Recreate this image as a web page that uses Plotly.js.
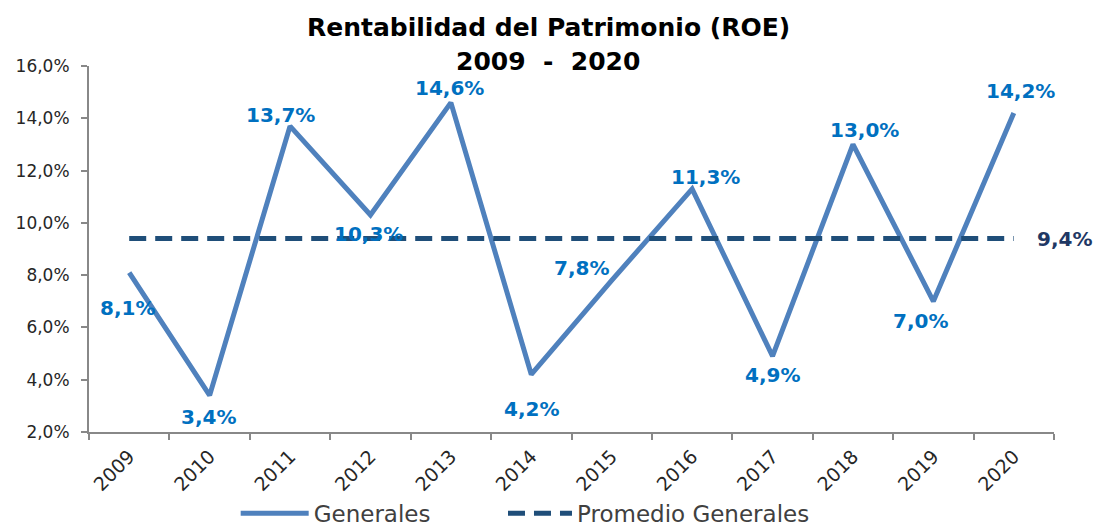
<!DOCTYPE html>
<html><head><meta charset="utf-8">
<script src="https://cdn.plot.ly/plotly-3.0.1.min.js"></script>
<style>body{margin:0;background:#fff}#c{width:1097px;height:531px}</style>
</head><body><div id="c"></div>
<script>
const years = ["2009","2010","2011","2012","2013","2014","2015","2016","2017","2018","2019","2020"];
const generales = [8.1,3.4,13.7,10.3,14.6,4.2,7.8,11.3,4.9,13.0,7.0,14.2];
const promedio = 9.4;
const yTicks = [2,4,6,8,10,12,14,16];
// label placement offsets (pixels) per point
const labelDx = [-2,-1,-10,-2,-1,0,-30,13,0,12,-13,7];
const labelDy = [-35,-22,11,-19,15,-35,12,12,-19,14,-20,22];

const fmt = v => v.toFixed(1).replace('.', ',') + '%';
const promedioArr = years.map(() => promedio);
const FONT = '"DejaVu Sans", sans-serif';

const traces = [
  {x: years, y: generales, type: 'scatter', mode: 'lines', name: 'Generales', legend: 'legend',
   line: {color: '#4F81BD', width: 5}},
  {x: years, y: promedioArr, type: 'scatter', mode: 'lines', name: 'Promedio Generales', legend: 'legend2',
   line: {color: '#1F4E79', width: 5, dash: '17px,9px'}}
];

const annotations = generales.map((v, i) => ({
  x: i, y: v, xref: 'x', yref: 'y', text: '<b>' + fmt(v) + '</b>', showarrow: false,
  xshift: labelDx[i], yshift: labelDy[i],
  font: {family: FONT, size: 20, color: '#0070C0'}
}));
annotations.push({
  x: years.length - 1, y: promedio, xref: 'x', yref: 'y', text: '<b>' + fmt(promedio) + '</b>',
  showarrow: false, xshift: 51, yshift: 0,
  font: {family: FONT, size: 20, color: '#1F3864'}
});
annotations.push({
  x: 0.476, y: 1.104, xref: 'paper', yref: 'paper', xanchor: 'center', yanchor: 'middle',
  text: '<b>Rentabilidad del Patrimonio (ROE)</b>', showarrow: false,
  font: {family: FONT, size: 25, color: '#000'}
});
annotations.push({
  x: 0.476, y: 1.011, xref: 'paper', yref: 'paper', xanchor: 'center', yanchor: 'middle',
  text: '<b>2009  -  2020</b>', showarrow: false,
  font: {family: FONT, size: 25, color: '#000'}
});

const legendFont = {family: FONT, size: 23, color: '#404040'};

const layout = {
  width: 1097, height: 531,
  margin: {l: 89, r: 43, t: 66, b: 99, autoexpand: false},
  paper_bgcolor: '#fff', plot_bgcolor: '#fff',
  hovermode: false,
  xaxis: {type: 'category', range: [-0.5, 11.5], tickson: 'boundaries', ticks: 'outside', ticklen: 6,
          tickwidth: 2, tickcolor: '#888', showline: true, linecolor: '#888', linewidth: 2,
          showgrid: false, zeroline: false, tickangle: -45, automargin: false, ticklabelstandoff: 4,
          tickfont: {family: FONT, size: 19, color: '#262626'}},
  yaxis: {range: [2, 16], tickvals: yTicks, ticktext: yTicks.map(fmt), ticks: 'outside', ticklen: 6,
          tickwidth: 2, tickcolor: '#888', showline: true, linecolor: '#888', linewidth: 2,
          showgrid: false, zeroline: false, automargin: false, ticklabelstandoff: 8,
          tickfont: {family: FONT, size: 17, color: '#262626'}},
  showlegend: true,
  legend: {orientation: 'h', x: 0.152, xanchor: 'left', xref: 'paper', y: -0.222, yanchor: 'middle',
           font: legendFont, itemwidth: 68},
  legend2: {orientation: 'h', x: 0.429, xanchor: 'left', xref: 'paper', y: -0.222, yanchor: 'middle',
           font: legendFont, itemwidth: 64},
  annotations: annotations
};

Plotly.newPlot('c', traces, layout, {displayModeBar: false});
</script>
</body></html>
